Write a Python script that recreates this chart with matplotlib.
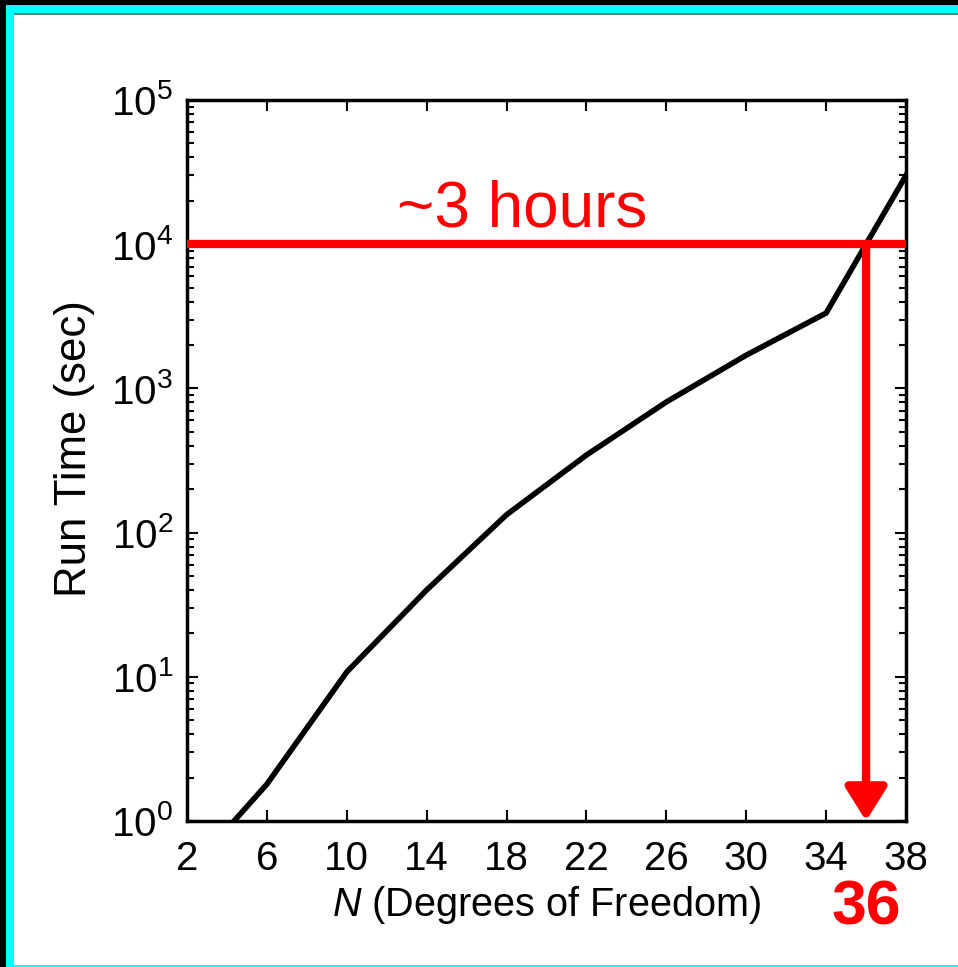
import matplotlib
matplotlib.use("Agg")
import matplotlib.pyplot as plt
from matplotlib.patches import Rectangle
from matplotlib.ticker import LogLocator, NullFormatter

plt.rcParams['font.family'] = ['Liberation Sans', 'DejaVu Sans']
plt.rcParams['mathtext.fontset'] = 'custom'
plt.rcParams['mathtext.rm'] = 'Liberation Sans'
plt.rcParams['mathtext.it'] = 'Liberation Sans:italic'
plt.rcParams['mathtext.bf'] = 'Liberation Sans:bold'

# data
dof = [4, 6, 10, 14, 18, 22, 26, 30, 34, 38]
run_time = [0.88, 1.8, 10.8, 40, 133, 345, 805, 1700, 3330, 30000]
x_ticks = [2, 6, 10, 14, 18, 22, 26, 30, 34, 38]
y_ticks = [1, 10, 100, 1000, 10000, 100000]
limit_time = 1e4
limit_dof = 36

W, H = 958, 967
fig = plt.figure(figsize=(W / 100, H / 100), dpi=100)
fig.patch.set_facecolor('white')

def px_rect(x0, y0, x1, y1, color):
	# rectangle given in pixels from the top-left corner
	fig.add_artist(Rectangle((x0 / W, 1 - y1 / H), (x1 - x0) / W, (y1 - y0) / H,
		transform=fig.transFigure, facecolor=color, edgecolor='none', zorder=-5))

# frame round the slide
px_rect(0, 0, 6, H, 'black')
px_rect(0, 0, W, 5, 'black')
px_rect(6, 5, 14, H, '#00ffff')
px_rect(6, 5, W, 13, '#00ffff')
px_rect(14, 13, W, 14.5, '#777777')
px_rect(6, 965, W, H, '#00ffff')

ax = fig.add_axes([187 / W, 1 - 821 / H, (906 - 187) / W, (821 - 100) / H])
ax.set_yscale('log')
ax.plot(dof, run_time, color='black', lw=4, solid_joinstyle='miter')
ax.set_xlim(2, 38)
ax.set_ylim(1, 1e5)

# red threshold line and arrow
ax.axhline(limit_time, color='red', lw=6, zorder=3)
ax.annotate('', xy=(limit_dof, 1), xytext=(limit_dof, limit_time),
	arrowprops=dict(arrowstyle='-|>,head_length=0.4,head_width=0.25', color='red',
		lw=6, mutation_scale=50, shrinkA=0, shrinkB=0), zorder=4)
ax.text(18.8, 1.75e4, '~3 hours', color='red', fontsize=46, ha='center', va='center')
ax.text(limit_dof, -0.12, '36', color='red', fontsize=45, fontweight='bold',
	ha='center', va='center', transform=ax.get_xaxis_transform())

ax.set_xticks(x_ticks)
ax.set_xticklabels([str(v) for v in x_ticks])
ax.set_yticks(y_ticks)
ax.set_yticklabels([r'$\mathregular{10^{%d}}$' % i for i in range(len(y_ticks))])
ax.yaxis.set_minor_locator(LogLocator(base=10, subs=range(2, 10), numticks=20))
ax.yaxis.set_minor_formatter(NullFormatter())
ax.tick_params(which='both', direction='in', top=True, right=True, width=1.5)
ax.tick_params(which='major', length=8, labelsize=29)
ax.tick_params(which='minor', length=5)
ax.tick_params(axis='x', pad=14)
ax.tick_params(axis='y', pad=10)
for s in ax.spines.values():
	s.set_linewidth(2.5)

ax.set_xlabel(r'$N$ (Degrees of Freedom)', fontsize=28.5, labelpad=4)
ax.set_ylabel('Run Time (sec)', fontsize=31.5)
ax.yaxis.set_label_coords(-0.128, 0.516)

fig.savefig('out.png', dpi=100, facecolor=fig.get_facecolor())
